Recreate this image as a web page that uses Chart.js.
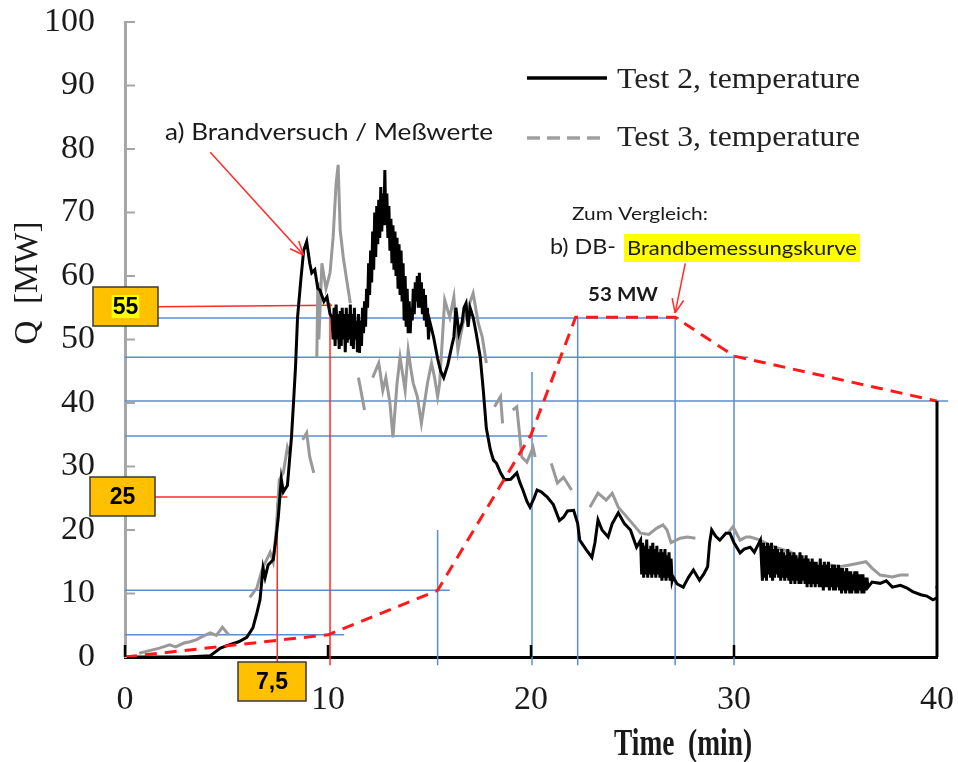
<!DOCTYPE html>
<html><head><meta charset="utf-8">
<script src="https://cdn.jsdelivr.net/npm/chart.js@4/dist/chart.umd.min.js"></script>
<style>html,body{margin:0;padding:0;background:#fff;}#wrap{width:958px;height:762px;}</style>
</head><body><div id="wrap"><canvas id="c" width="958" height="762"></canvas></div>
<script>
// ---- data (time in min, Q in MW) ----
const xTicks = [0, 10, 20, 30, 40];
const yTicks = [0, 10, 20, 30, 40, 50, 60, 70, 80, 90, 100];
const seriesLabels = ['Test 2, temperature', 'Test 3, temperature', 'DB-Brandbemessungskurve'];

const test2Time = [0,1,2,3,4.2,4.7,5.2,5.6,6.0,6.3,6.5,6.65,6.8,6.9,7.05,7.3,7.45,7.55,7.7,7.8,8.0,8.2,8.3,8.4,8.5,8.65,8.8,8.95,9.1,9.2,9.35,9.5,9.6,9.8,9.95,10.1,10.2,
 10.25,10.3,10.35,10.4,10.45,10.5,10.55,10.6,10.65,10.7,10.75,10.8,10.85,10.9,10.95,
 11,11.05,11.1,11.15,11.2,11.25,11.3,11.35,11.4,11.45,11.5,11.55,11.6,11.65,11.7,11.75,11.8,11.85,11.9,11.95,
 12,12.05,12.1,12.15,12.2,12.25,12.3,12.35,12.4,12.45,12.5,12.55,12.6,12.65,12.7,12.75,12.8,12.85,12.9,12.95,
 13,13.05,13.1,13.15,13.2,13.25,13.3,13.35,13.4,13.45,13.5,13.55,13.6,13.65,13.7,13.75,13.8,13.85,13.9,13.95,
 14,14.05,14.1,14.15,14.2,14.25,14.3,14.35,14.4,14.45,14.5,14.55,14.6,14.65,14.7,14.75,14.8,14.85,14.9,14.95,15,
 15.2,15.4,15.55,15.7,15.9,16.1,16.2,16.3,16.45,16.6,16.7,16.8,16.9,17.0,17.15,17.3,17.5,17.65,17.8,18.0,18.15,18.3,18.5,18.7,19.0,19.3,19.45,19.6,19.8,19.95,20.15,20.3,20.5,20.8,21.1,21.4,21.6,21.8,22.1,22.3,22.4,22.7,23.0,23.15,23.3,23.5,23.8,24.0,24.3,24.6,24.9,25.2,25.4,
 25.45,25.5,25.55,25.6,25.65,25.7,25.75,25.8,25.85,25.9,25.95,26,26.05,26.1,26.15,26.2,26.25,26.3,26.35,26.4,26.45,26.5,26.55,26.6,26.65,26.7,26.75,26.8,26.85,26.9,26.95,27,
 27.2,27.5,27.75,28.0,28.3,28.5,28.7,28.8,28.9,29.1,29.3,29.6,29.8,30.0,30.3,30.5,30.8,31.0,31.3,
 31.4,31.45,31.5,31.55,31.6,31.65,31.7,31.75,31.8,31.85,31.9,31.95,
 32,32.05,32.1,32.15,32.2,32.25,32.3,32.35,32.4,32.45,32.5,32.55,32.6,32.65,32.7,32.75,32.8,32.85,32.9,32.95,
 33,33.05,33.1,33.15,33.2,33.25,33.3,33.35,33.4,33.45,33.5,33.55,33.6,33.65,33.7,33.75,33.8,33.85,33.9,33.95,
 34,34.05,34.1,34.15,34.2,34.25,34.3,34.35,34.4,34.45,34.5,34.55,34.6,34.65,34.7,34.75,34.8,34.85,34.9,34.95,
 35,35.05,35.1,35.15,35.2,35.25,35.3,35.35,35.4,35.45,35.5,35.55,35.6,35.65,35.7,35.75,35.8,35.85,35.9,35.95,
 36,36.05,36.1,36.15,36.2,36.25,36.3,36.35,36.4,36.45,36.5,36.55,36.6,
 36.8,37.2,37.5,37.8,38.2,38.5,38.8,39.2,39.5,39.8,40.0];
const test2Q = [0,0,0,0,0.2,1.4,2.0,2.4,3.1,4.6,7,9,14,12.5,14.5,15.3,19,22,28,26,27,34.6,40,45.7,53.5,59,64,65.4,62,60.5,61,58,57.8,56,56.7,54,53.5,
 50,55,49,55.5,50,54,48.5,54.5,49,55,50,54,48,55,49.5,
 54,50,55.5,49,54,48.5,55,50,53,48,54,47.9,53,49,55,51,56,52,58,55,
 62,57,64,59,67,61,70,63,71,65,72,66,74,67,73,68,76.7,68,73,66,
 71,64,69,62,68,61,67,60,66,58,65,57,64,56,62,53,60,52,58,51,
 56,51,55,53,58,54,59,56,60,55,60.5,55,59,54,58,53,57,52,55,50,53,
 50.4,47,45,44,46,49,50.4,55,51,52.6,55,55.7,52,55,53.5,51,47.2,42,36,32.6,31,30.5,29,27.9,28,29,27.5,26.3,24.5,23.6,25,26.3,26,25.2,24,21.5,22,23,23.1,21,18.4,17,15.7,18,21.6,20,18.9,21,22.7,21,20,17.3,18.4,
 13,18,12.5,17.5,13,18.5,12.5,17,13,17.5,12.5,18,13,17,12.5,17.5,13,16.5,12.5,17,12,16.5,12.5,17,12,16,12.5,16.5,12,15.5,12,12.6,
 11.5,11,12.5,13.7,12.1,13,14.2,18,20,19,18.4,19.5,19.5,18,16.4,17,17.3,16.5,18.4,
 12,18,12.5,17.5,12,18,13,17.5,12.5,18,12,17,
 12.5,17.5,13,17,12.5,16.5,12,17,12.5,16.5,12,16,12.5,17,12,16.5,11.5,16,12,16.5,
 11.5,16,12,15.5,11.5,16.5,11.5,16,12,15.5,11.5,16,11,15.5,11.5,15,11,15.5,11.5,15,
 11,15,11.5,14.5,11,15.5,11,14.5,10.5,15,11,14.5,11,15,10.5,14,11,14.5,10.5,14.5,
 10.5,14,11,14.5,10.5,14,10,14,10.5,13.5,10,14,10.5,13.5,10,13.5,10,13,10.5,13.5,
 10,13.5,10,13,10.5,13,10,13,10,12.5,10.5,12.5,11,
 11.8,11.6,12,11,11.3,10.9,10.3,9.8,9.6,9,9.3];

const test3Time = [0.7,1.2,1.7,2.2,2.5,2.9,3.2,3.5,3.8,4.2,4.5,4.8,5.1,5.5,
 6.15,6.5,6.75,6.9,7.15,7.3,7.45,7.6,7.8,8.0,8.1,8.4,
 8.75,8.95,9.1,9.3,9.4,
 9.45,9.5,9.55,9.7,9.9,10.1,10.25,10.4,10.5,10.6,10.75,10.9,11.1,11.3,
 11.5,11.8,12.0,
 12.2,12.5,12.7,12.85,13.05,13.2,13.4,13.55,13.8,13.95,14.1,14.2,14.4,14.6,14.9,15.1,15.25,15.4,15.5,15.75,16.0,16.2,16.4,16.65,16.9,17.15,17.4,17.6,17.8,18.0,
 18.2,18.5,18.6,18.8,
 19.1,19.3,19.55,19.8,20.1,20.2,20.5,
 21.0,21.3,21.6,22.0,22.5,
 22.9,23.3,23.7,24.0,24.3,24.6,25.0,25.4,25.8,26.2,26.5,26.7,26.9,27.35,27.7,28.1,28.5,
 29.7,29.95,30.3,30.6,30.8,31.3,31.8,32.3,32.8,33.3,33.7,34.1,34.7,35.2,35.7,36.2,36.5,36.8,37.2,37.8,38.2,38.6,39.0,39.9,40.0];
const test3Q = [0.6,1.0,1.4,1.9,1.6,2.2,2.4,2.7,3.2,3.8,3.4,4.7,3.5,null,
 9.4,10.9,13.7,14.8,16.5,15,20,27.9,29,33,32,null,
 34.2,35.3,31.5,29,null,
 47.2,59,50,62,58,60.5,66,74.6,77.5,67.2,63,59.8,55.7,null,
 44,38.9,null,
 44,46.3,42,44,40,34.6,43.1,47.2,42,48.3,45,43.1,41,36.8,43.1,46.3,44,41,43.1,56.2,53.5,56.7,48.3,52.6,55,57.3,52.6,50.4,46.3,null,
 39.4,41,36.8,null,
 38.9,39.4,31.5,30.7,33,31.5,null,
 30.5,27.4,28.3,26.3,null,
 23.6,25.8,24.7,25.8,23.6,22.5,21,19.5,19.3,20.3,20.8,20,18,18.7,18.9,18.7,null,
 19.5,20.5,18.4,18.9,18.9,18.4,17.5,17,16.5,15.3,14.5,13.7,14.5,14.2,14.5,14.8,15,14,12.9,12.6,12.9,12.9,null,11,11];

const dbTime = [0, 10, 15.4, 20, 22.2, 27.1, 30, 40];
const dbQ    = [0, 3.5, 10.5, 35, 53.5, 53.5, 47.4, 40.3];

// construction lines (data units)
const blueHQ   = [3.5, 10.5, 34.8, 40.3, 47.2, 53.4];
const blueHEnd = [10.8, 16.0, 20.8, 40.55, 30.7, 27.3];
const blueVT   = [15.4, 20.05, 22.3, 27.1, 30.0];
const blueVTop = [20, 44.9, 53.4, 53.4, 47.6];
const markLabels = ['55', '25', '7,5'];
const markQ = [55.4, 25.2];
const markT = [10.1, 7.5];

const pts = (xs, ys) => xs.map((t, i) => ({x: t, y: ys[i]}));
const SERIF = '"Liberation Serif","Times New Roman",serif';
const SANS = 'Lato,"Open Sans","Noto Sans",sans-serif';

function fitText(ctx, text, x, y, width, font, align) {
  ctx.save();
  ctx.font = font;
  const w = ctx.measureText(text).width;
  const s = width / w;
  ctx.translate(x, y);
  ctx.scale(s, 1);
  ctx.textAlign = align || 'left';
  ctx.textBaseline = 'middle';
  ctx.fillText(text, 0, 0);
  ctx.restore();
}
function line(ctx, x1, y1, x2, y2) { ctx.beginPath(); ctx.moveTo(x1, y1); ctx.lineTo(x2, y2); ctx.stroke(); }
function arrow(ctx, x1, y1, x2, y2) {
  line(ctx, x1, y1, x2, y2);
  const a = Math.atan2(y2 - y1, x2 - x1), L = 15;
  line(ctx, x2, y2, x2 - L * Math.cos(a - 0.4), y2 - L * Math.sin(a - 0.4));
  line(ctx, x2, y2, x2 - L * Math.cos(a + 0.4), y2 - L * Math.sin(a + 0.4));
}
function box(ctx, x, y, w, h, text, hl) {
  ctx.save();
  ctx.fillStyle = '#FFC000'; ctx.fillRect(x, y, w, h);
  ctx.strokeStyle = '#3a3a3a'; ctx.lineWidth = 1.5; ctx.strokeRect(x, y, w, h);
  ctx.font = 'bold 23px "Liberation Sans",Arial,sans-serif';
  const tw = ctx.measureText(text).width;
  if (hl) { ctx.fillStyle = '#FFFF00'; ctx.fillRect(x + w / 2 - tw / 2 - 1, y + 8, tw + 2, h - 16); }
  ctx.fillStyle = '#000'; ctx.textAlign = 'center'; ctx.textBaseline = 'middle';
  ctx.fillText(text, x + w / 2, y + h / 2 + 1);
  ctx.restore();
}

const overlay = {
  id: 'overlay',
  beforeDatasetsDraw(chart) {
    const {ctx, scales: {x, y}} = chart;
    ctx.save();
    ctx.strokeStyle = '#5a8ed2'; ctx.lineWidth = 1.5;
    blueHQ.forEach((q, i) => line(ctx, x.getPixelForValue(0), y.getPixelForValue(q), x.getPixelForValue(blueHEnd[i]), y.getPixelForValue(q)));
    blueVT.forEach((t, i) => line(ctx, x.getPixelForValue(t), y.getPixelForValue(-1.3), x.getPixelForValue(t), y.getPixelForValue(blueVTop[i])));
    ctx.strokeStyle = '#ff2a2a'; ctx.lineWidth = 1.5;
    line(ctx, x.getPixelForValue(0), y.getPixelForValue(55.1), x.getPixelForValue(markT[0] + 0.1), y.getPixelForValue(markQ[0]));
    line(ctx, x.getPixelForValue(markT[0]), y.getPixelForValue(markQ[0] + 0.3), x.getPixelForValue(markT[0]), y.getPixelForValue(-1.3));
    line(ctx, x.getPixelForValue(0), y.getPixelForValue(markQ[1]), x.getPixelForValue(8.0), y.getPixelForValue(markQ[1]));
    line(ctx, x.getPixelForValue(markT[1]), y.getPixelForValue(24.3), x.getPixelForValue(markT[1]), y.getPixelForValue(-0.8));
    ctx.restore();
  },
  afterDraw(chart) {
    const {ctx, chartArea: ca, scales: {x, y}} = chart;
    ctx.save();
    ctx.strokeStyle = '#a6a6a6'; ctx.lineWidth = 2;
    yTicks.forEach(v => { if (v > 0) line(ctx, ca.left, y.getPixelForValue(v), ca.left + 10, y.getPixelForValue(v)); });
    ctx.strokeStyle = '#000'; ctx.lineWidth = 2.5;
    xTicks.forEach(v => { if (v < 40) line(ctx, x.getPixelForValue(v), ca.bottom, x.getPixelForValue(v), ca.bottom - 12); });
    ctx.lineWidth = 3;
    line(ctx, x.getPixelForValue(40), ca.bottom, x.getPixelForValue(40), y.getPixelForValue(40.3));

    box(ctx, 93, 287, 65, 39, markLabels[0], true);
    box(ctx, 90, 477, 65, 39, markLabels[1], false);
    box(ctx, 238, 662, 68, 39, markLabels[2], false);

    ctx.strokeStyle = '#ff2a2a'; ctx.lineWidth = 1.5;
    arrow(ctx, x.getPixelForValue(4.2), y.getPixelForValue(79.5), x.getPixelForValue(8.8), y.getPixelForValue(63.3));
    arrow(ctx, x.getPixelForValue(27.6), y.getPixelForValue(62.0), x.getPixelForValue(27.1), y.getPixelForValue(54.2));

    ctx.fillStyle = '#1a1a1a';
    fitText(ctx, 'a) Brandversuch / Meßwerte', 165, 133, 328, '23px ' + SANS);
    fitText(ctx, 'Zum Vergleich:', 572, 215, 136, '17px ' + SANS);
    fitText(ctx, 'b) DB-', 550, 247, 66, '21px ' + SANS);
    ctx.fillStyle = '#FFFF00'; ctx.fillRect(624, 234, 236, 28);
    ctx.fillStyle = '#1a1a1a';
    fitText(ctx, 'Brandbemessungskurve', 627, 249, 230, '20px ' + SANS);
    fitText(ctx, '53 MW', 588, 295, 70, 'bold 18px ' + SANS);

    ctx.strokeStyle = '#000'; ctx.lineWidth = 3.5; ctx.setLineDash([]);
    line(ctx, 527, 78, 607, 78);
    ctx.strokeStyle = '#a0a0a0'; ctx.lineWidth = 3.5; ctx.setLineDash([13, 7]);
    line(ctx, 527, 138, 602, 138);
    ctx.setLineDash([]);
    ctx.fillStyle = '#222';
    fitText(ctx, seriesLabels[0], 617, 80, 243, '30px ' + SERIF);
    fitText(ctx, seriesLabels[1], 617, 138, 243, '30px ' + SERIF);

    ctx.fillStyle = '#1a1a1a';
    fitText(ctx, 'Time  (min)', 683, 745, 138, 'bold 38px ' + SERIF, 'center');
    ctx.save();
    ctx.translate(28, 283); ctx.rotate(-Math.PI / 2);
    ctx.font = '33px ' + SERIF; ctx.textAlign = 'center'; ctx.textBaseline = 'middle';
    ctx.fillText('Q  [MW]', 0, 0);
    ctx.restore();
    ctx.restore();
  }
};

new Chart(document.getElementById('c'), {
  type: 'line',
  data: {
    datasets: [
      {label: seriesLabels[0], data: pts(test2Time, test2Q), borderColor: '#000', borderWidth: 3, pointRadius: 0, tension: 0, order: 2, spanGaps: false},
      {label: seriesLabels[1], data: pts(test3Time, test3Q), borderColor: '#999999', borderWidth: 3, pointRadius: 0, tension: 0, order: 3, spanGaps: false},
      {label: seriesLabels[2], data: pts(dbTime, dbQ), borderColor: '#ff1a1a', borderWidth: 3, borderDash: [12, 8], pointRadius: 0, tension: 0, order: 1}
    ]
  },
  options: {
    responsive: false, animation: false, devicePixelRatio: 1,
    layout: {padding: {top: 22, right: 21, left: 0, bottom: 0}},
    plugins: {legend: {display: false}, tooltip: {enabled: false}},
    scales: {
      x: {
        type: 'linear', min: 0, max: 40,
        afterBuildTicks: s => { s.ticks = xTicks.map(v => ({value: v})); },
        afterFit: s => { s.height = 105; s.paddingLeft = 0; s.paddingRight = 0; },
        grid: {display: false, drawTicks: false},
        border: {display: true, color: '#000', width: 3},
        ticks: {padding: 23, color: '#1a1a1a', font: {family: SERIF, size: 34}, maxRotation: 0}
      },
      y: {
        type: 'linear', min: 0, max: 100,
        afterBuildTicks: s => { s.ticks = yTicks.map(v => ({value: v})); },
        afterFit: s => { s.width = 125; s.paddingTop = 0; s.paddingBottom = 0; },
        grid: {display: false, drawTicks: false},
        border: {display: true, color: '#a6a6a6', width: 3},
        ticks: {padding: 30, color: '#1a1a1a', font: {family: SERIF, size: 34}}
      }
    }
  },
  plugins: [overlay]
});
</script></body></html>
